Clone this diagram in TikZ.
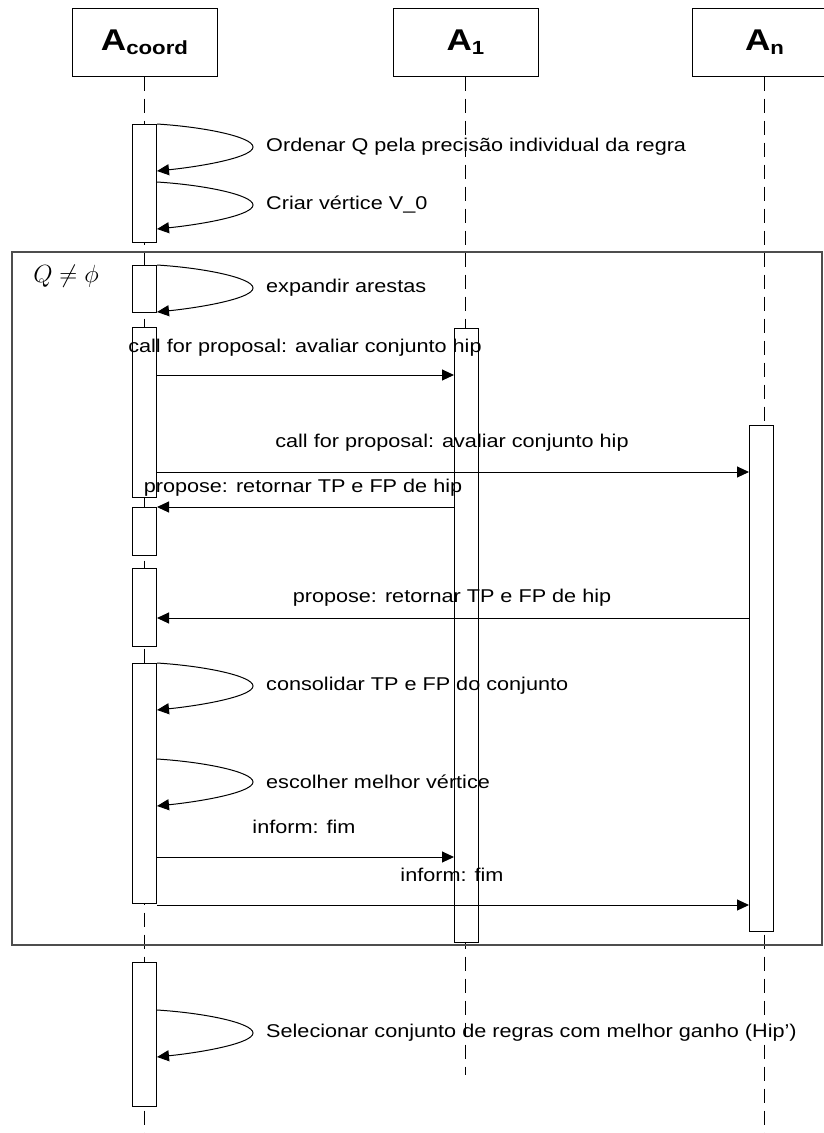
\documentclass[tikz,border=0pt]{standalone}
\usepackage{fontspec}
\setmainfont[FakeStretch=1.17]{Liberation Sans}
\usetikzlibrary{arrows.meta,positioning,calc}
\definecolor{LineBlack}{HTML}{000000}
\definecolor{FrameGray}{HTML}{4D4D4D}
\newcommand{\agentlabel}[1]{\fontsize{30}{30}\selectfont\bfseries A\raisebox{-4pt}{\fontsize{19}{19}\selectfont #1}}

\begin{document}
\begin{tikzpicture}[x=1pt,y=-1pt,
  actor/.style={draw=LineBlack,line width=1pt,minimum width=145pt,minimum height=68pt,inner sep=0pt},
  bar/.style={draw=LineBlack,fill=white,line width=1pt,minimum width=24pt,inner sep=0pt,anchor=north},
  life/.style={draw=LineBlack,line width=1pt,dash pattern=on 14pt off 8pt},
  msg/.style={draw=LineBlack,line width=1pt,-{Triangle[length=12pt,width=11pt]}},
  lbl/.style={font=\fontsize{18.5}{21}\selectfont,text=LineBlack,inner sep=0pt}]
  \useasboundingbox (0,0) rectangle (823,1133);

  % agents
  \node[actor] (hc) at (144.5,42) {\agentlabel{coord}};
  \node[actor] (h1) at (465.5,42) {\agentlabel{1}};
  \node[actor] (hn) at (764.5,42) {\agentlabel{n}};

  % lifelines
  \coordinate (hc-end) at (144.5,1133);
  \coordinate (h1-end) at (465.5,1075);
  \coordinate (hn-end) at (764.5,1133);
  \draw[life] (hc.south) -- (hc-end);
  \draw[life] (h1.south) -- (h1-end);
  \draw[life] (hn.south) -- (hn-end);

  % loop frame
  \draw[draw=FrameGray,line width=1.3pt] (12,252) rectangle (822,945);
  \node (guard) at (66,276) {\fontsize{26}{26}\selectfont$Q\neq\phi$};

  % activations
  \node[bar,minimum height=118pt] (c1) at (144.5,124) {};
  \node[bar,minimum height=47pt]  (c2) at (144.5,265) {};
  \node[bar,minimum height=170pt] (c3) at (144.5,327) {};
  \node[bar,minimum height=48pt]  (c4) at (144.5,507) {};
  \node[bar,minimum height=78pt]  (c5) at (144.5,568) {};
  \node[bar,minimum height=240pt] (c6) at (144.5,663) {};
  \node[bar,minimum height=144pt] (c7) at (144.5,962) {};
  \node[bar,minimum height=614pt] (a1) at (466.5,328) {};
  \node[bar,minimum height=506pt] (n1) at (761.5,425) {};

  % self messages
  \foreach \b/\ya/\txt [count=\i] in {
      c1/124/{Ordenar Q pela precisão individual da regra},
      c1/182/{Criar vértice V\_0},
      c2/265/{expandir arestas},
      c6/663/{consolidar TP e FP do conjunto},
      c6/759/{escolher melhor vértice},
      c7/1010/{Selecionar conjunto de regras com melhor ganho (Hip')}} {
    \coordinate (tip\i) at (253,\ya+23);
    \draw[msg] (\b.east |- 0,\ya) .. controls (205,\ya+3) and (253,\ya+13) .. (tip\i)
      .. controls (253,\ya+33) and (205,\ya+42) .. (\b.east |- 0,\ya+47);
    \node[lbl,anchor=west] (self\i) at (266,\ya+23) {\txt};
  }

  % messages
  \draw[msg] (c3.east |- 0,375) -- (a1.west |- 0,375);
  \node[lbl] (m1) at (305,348) {call for proposal: avaliar conjunto hip};
  \draw[msg] (c3.east |- 0,472) -- (n1.west |- 0,472);
  \node[lbl] (m2) at (452,443) {call for proposal: avaliar conjunto hip};
  \draw[msg] (a1.west |- 0,507) -- (c4.east |- 0,507);
  \node[lbl] (m3) at (303,488) {propose: retornar TP e FP de hip};
  \draw[msg] (n1.west |- 0,618) -- (c5.east |- 0,618);
  \node[lbl] (m4) at (452,598) {propose: retornar TP e FP de hip};
  \draw[msg] (c6.east |- 0,857) -- (a1.west |- 0,857);
  \node[lbl] (m5) at (304,827) {inform: fim};
  \draw[msg] (c6.east |- 0,905) -- (n1.west |- 0,905);
  \node[lbl] (m6) at (452,875) {inform: fim};
\end{tikzpicture}
\end{document}
